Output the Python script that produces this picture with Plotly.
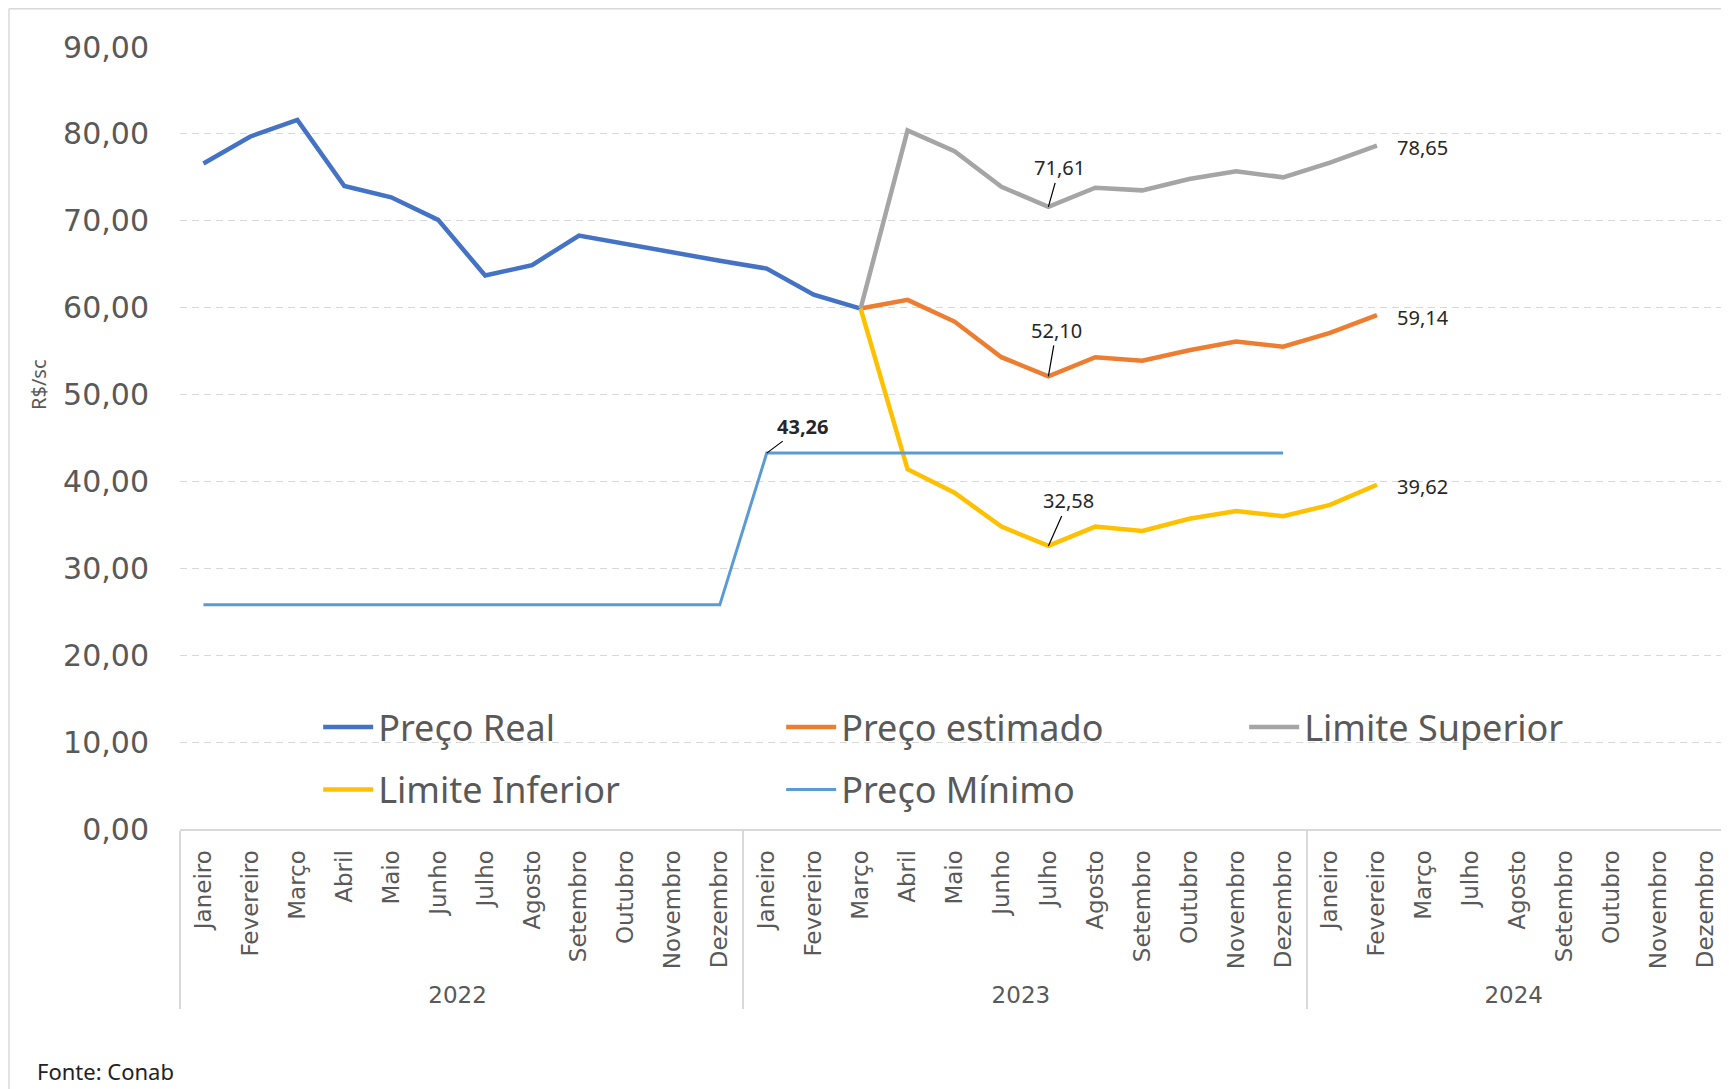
import plotly.graph_objects as go

# ---------------- data ----------------
months_full = ["Janeiro", "Fevereiro", "Março", "Abril", "Maio", "Junho", "Julho",
               "Agosto", "Setembro", "Outubro", "Novembro", "Dezembro"]
months_2024 = ["Janeiro", "Fevereiro", "Março", "Julho", "Agosto", "Setembro",
               "Outubro", "Novembro", "Dezembro"]
year_labels = ["2022"] * 12 + ["2023"] * 12 + ["2024"] * 9
month_labels = months_full + months_full + months_2024

N = len(month_labels)

preco_real = [76.6, 79.7, 81.6, 74.0, 72.7, 70.1, 63.7, 64.9, 68.3, 67.3, 66.3, 65.4,
              64.5, 61.5, 59.9] + [None] * (N - 15)
preco_estimado = [None] * 14 + [59.9, 60.9, 58.4, 54.3, 52.10, 54.3, 53.9, 55.1, 56.1,
                                55.5, 57.1, 59.14] + [None] * (N - 26)
limite_superior = [None] * 14 + [59.9, 80.4, 78.0, 73.9, 71.61, 73.8, 73.5, 74.8, 75.7,
                                 75.0, 76.7, 78.65] + [None] * (N - 26)
limite_inferior = [None] * 14 + [59.9, 41.4, 38.7, 34.8, 32.58, 34.8, 34.3, 35.7, 36.6,
                                 36.0, 37.3, 39.62] + [None] * (N - 26)
preco_minimo = [25.8] * 12 + [43.26] * 12 + [None] * (N - 24)

y_ticks = [0, 10, 20, 30, 40, 50, 60, 70, 80, 90]

x_multi = [year_labels, month_labels]

GRAY_TXT = "#595959"

fig = go.Figure()

series = [
    ("Preço Real", preco_real, "#4472C4", 4.5, "legend"),
    ("Preço estimado", preco_estimado, "#ED7D31", 4.5, "legend"),
    ("Limite Superior", limite_superior, "#A5A5A5", 4.5, "legend"),
    ("Limite Inferior", limite_inferior, "#FFC000", 4.5, "legend2"),
    ("Preço Mínimo", preco_minimo, "#5B9BD5", 3, "legend2"),
]
for name, vals, color, w, lg in series:
    fig.add_trace(go.Scatter(
        x=x_multi, y=vals, name=name, mode="lines",
        line=dict(color=color, width=w), connectgaps=False, legend=lg,
    ))

# ------------- data labels -------------
def idx_of_last(vals):
    return max(i for i, v in enumerate(vals) if v is not None)

lab_font = dict(family="Noto Sans", size=20, color="#262626")
fmt = lambda v: f"{v:.2f}".replace(".", ",")

jul23 = 18
jan23 = 12
leader = [
    (limite_superior, jul23, 11, -39, False),
    (preco_estimado, jul23, 8, -46, False),
    (limite_inferior, jul23, 20, -45, False),
    (preco_minimo, jan23, 36, -27, True),
]
for vals, i, axp, ayp, bold in leader:
    txt = fmt(vals[i])
    fig.add_annotation(
        x=i, y=vals[i], xref="x", yref="y",
        text=f"<b>{txt}</b>" if bold else txt,
        showarrow=True, arrowhead=0, arrowwidth=1.2, arrowcolor="#000000",
        ax=axp, ay=ayp, standoff=0, font=lab_font,
    )

for vals in (limite_superior, preco_estimado, limite_inferior):
    i = idx_of_last(vals)
    fig.add_annotation(
        x=i, y=vals[i], xref="x", yref="y", text=fmt(vals[i]),
        showarrow=False, xanchor="left", yanchor="middle", xshift=18, yshift=-2,
        font=lab_font,
    )

# axis title and source
fig.add_annotation(
    x=-0.0917, y=0.569, xref="paper", yref="paper", text="R$/sc",
    textangle=-90, showarrow=False, xanchor="center", yanchor="middle",
    font=dict(family="Noto Sans", size=20, color=GRAY_TXT),
)
fig.add_annotation(
    x=-0.0936, y=-0.3095, xref="paper", yref="paper", text="Fonte: Conab",
    showarrow=False, xanchor="left", yanchor="middle",
    font=dict(family="Noto Sans", size=22, color="#222222"),
)

# chart border (left and top)
fig.add_shape(type="line", xref="paper", yref="paper", x0=-0.1104, x1=-0.1104,
              y0=-0.34, y1=1.0488, line=dict(color="#d9d9d9", width=1.5))
fig.add_shape(type="line", xref="paper", yref="paper", x0=-0.1104, x1=1.01,
              y0=1.0488, y1=1.0488, line=dict(color="#d9d9d9", width=1.5))

legend_common = dict(
    orientation="h", xanchor="left", yanchor="middle", x=0.0892,
    bgcolor="rgba(0,0,0,0)", font=dict(family="Noto Sans", size=36, color=GRAY_TXT),
    entrywidth=398, entrywidthmode="pixels", itemwidth=50,
)

fig.update_layout(
    width=1721, height=1081,
    margin=dict(l=172, r=0, t=39, b=260),
    paper_bgcolor="white", plot_bgcolor="white",
    separators=",.",
    font=dict(family="Noto Sans", color=GRAY_TXT),
    showlegend=True,
    legend=dict(legend_common, y=0.1304),
    legend2=dict(legend_common, y=0.0505),
    xaxis=dict(
        type="multicategory", range=[-0.5, N - 0.5],
        tickangle=-90, tickfont=dict(family="DejaVu Sans", size=23, color=GRAY_TXT),
        showline=True, linecolor="#d9d9d9", linewidth=2,
        showgrid=False, ticks="", showdividers=True,
        dividercolor="#d9d9d9", dividerwidth=1.5, ticklabelstandoff=10,
    ),
    yaxis=dict(
        range=[0, 90], tickvals=y_ticks, tickformat=".2f",
        tickfont=dict(family="DejaVu Sans", size=30, color=GRAY_TXT),
        showgrid=True, gridcolor="#d9d9d9", gridwidth=1.3, griddash="7px,5px",
        zeroline=False, showline=False, ticks="", ticklabelstandoff=30,
    ),
)

fig.write_html("out.html")
